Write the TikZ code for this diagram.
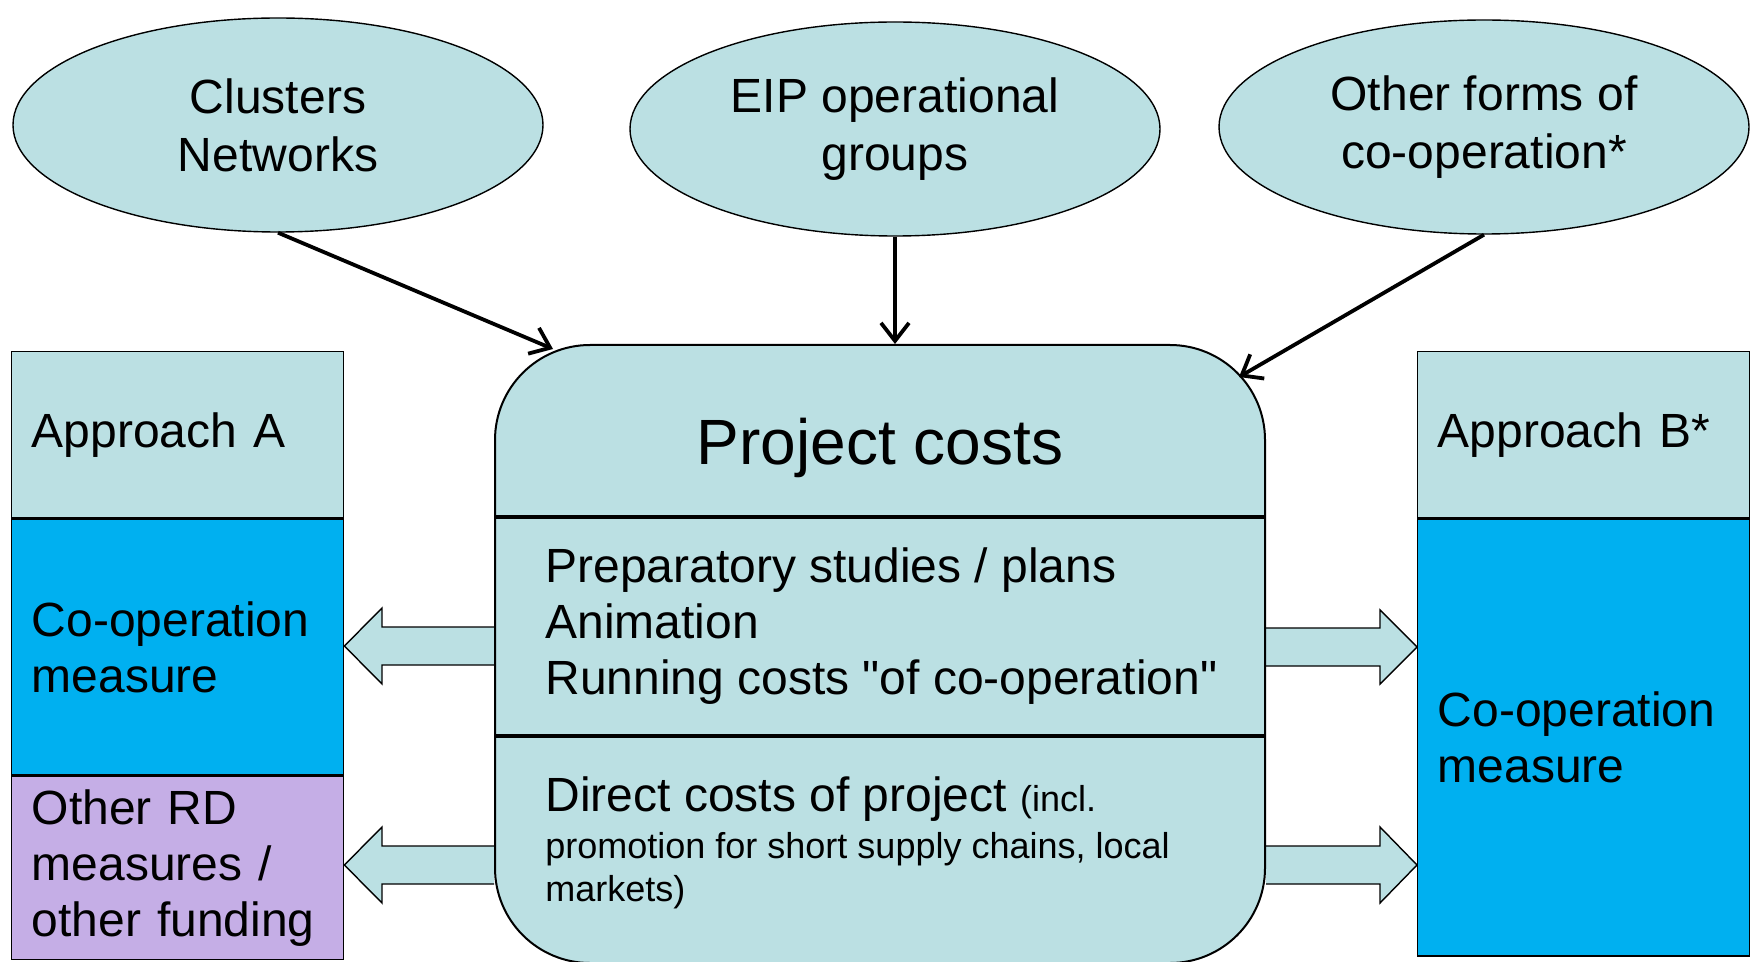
\documentclass[tikz,border=0pt]{standalone}
\usepackage{fontspec}
\setmainfont{Liberation Sans}[Ligatures=TeXOff]
\usetikzlibrary{shapes.geometric, arrows.meta, calc, backgrounds}
\definecolor{boxteal}{RGB}{187,224,227}
\definecolor{coopblue}{RGB}{0,176,240}
\definecolor{otherlilac}{RGB}{197,174,230}

\begin{document}
\begin{tikzpicture}[x=0.5pt, y=-0.5pt,
  bubble/.style={ellipse, draw=black, line width=0.7pt, fill=boxteal, minimum width=265pt, minimum height=107pt, inner sep=0pt, align=center, font=\fontsize{24}{29}\selectfont},
  sidebox/.style={rectangle, draw=black, line width=0.7pt, text width=146pt, inner xsep=10pt, inner ysep=0pt, align=left, font=\fontsize{24}{28}\selectfont},
  feed/.style={line width=1.9pt, -{Straight Barb[length=9pt, width=14pt]}},
  fatarrow/.style={draw=black, line width=0.7pt, fill=boxteal, line join=miter}]
  \useasboundingbox (0,0) rectangle (1754,962);

  % Forms of co-operation
  \node[bubble] (clusters) at (278,125) {Clusters\\Networks};
  \node[bubble] (eip) at (895,129) {EIP operational\\groups};
  \node[bubble] (otherforms) at (1484,127) {Other forms of\\co-operation*};

  % Project costs box
  \node[draw=black, line width=1pt, fill=boxteal, rounded corners=47.5pt, minimum width=385pt, minimum height=309pt, inner sep=0pt] (proj) at (880,654) {};
  \draw[line width=2pt] (proj.west |- 0,517) -- (proj.east |- 0,517);
  \draw[line width=2pt] (proj.west |- 0,736) -- (proj.east |- 0,736);

  \node[anchor=base, inner sep=0pt, font=\fontsize{32}{38}\selectfont] (projtitle) at (880,464) {Project costs};
  \node[anchor=base west, align=left, inner sep=0pt, font=\fontsize{24}{28}\selectfont] (runcosts) at (545,694) {Preparatory studies / plans\\Animation\\Running costs "of co-operation"};
  \node[anchor=base west, inner sep=0pt, font=\fontsize{24}{28}\selectfont] (directcosts) at (545,811) {Direct costs of project {\fontsize{18}{21.5}\selectfont(incl.}};
  \node[anchor=base west, align=left, inner sep=0pt, font=\fontsize{18}{21.5}\selectfont] (directnote) at (545,901) {promotion for short supply chains, local\\markets)};

  % Approach A
  \node[sidebox, fill=boxteal, minimum height=83pt, anchor=north west] (apprA) at (11,351) {Approach A};
  \node[sidebox, fill=coopblue, minimum height=128pt, anchor=north] (coopA) at (apprA.south) {Co-operation\\measure};
  \node[sidebox, fill=otherlilac, minimum height=91.5pt, anchor=north] (otherA) at (coopA.south) {Other RD\\measures /\\other funding};

  % Approach B
  \node[sidebox, fill=boxteal, minimum height=83pt, anchor=north west] (apprB) at (1417,351) {Approach B*};
  \node[sidebox, fill=coopblue, minimum height=218.5pt, anchor=north] (coopB) at (apprB.south) {Co-operation\\measure};

  % Arrows into project costs
  \draw[feed] (clusters.south) -- ($(proj.north west)+(59,5)$);
  \draw[feed] (eip.south) -- (eip.south |- proj.north);
  \draw[feed] (otherforms.south) -- ($(proj.north east)+(-27,33)$);

  % Block arrows to the approaches
  \begin{scope}[on background layer]
    \draw[fatarrow] (proj.west |- 0,627) -- (382,627) -- (382,608) -- (coopA.east |- 0,646) -- (382,684) -- (382,665) -- (proj.west |- 0,665);
    \draw[fatarrow] (proj.west |- 0,846) -- (382,846) -- (382,827) -- (otherA.east |- 0,865) -- (382,903) -- (382,884) -- (proj.west |- 0,884);
    \draw[fatarrow] (proj.east |- 0,628) -- (1380,628) -- (1380,610) -- (coopB.west |- 0,647) -- (1380,684) -- (1380,666) -- (proj.east |- 0,666);
    \draw[fatarrow] (proj.east |- 0,846) -- (1380,846) -- (1380,827) -- (coopB.west |- 0,865) -- (1380,903) -- (1380,884) -- (proj.east |- 0,884);
  \end{scope}
\end{tikzpicture}
\end{document}
